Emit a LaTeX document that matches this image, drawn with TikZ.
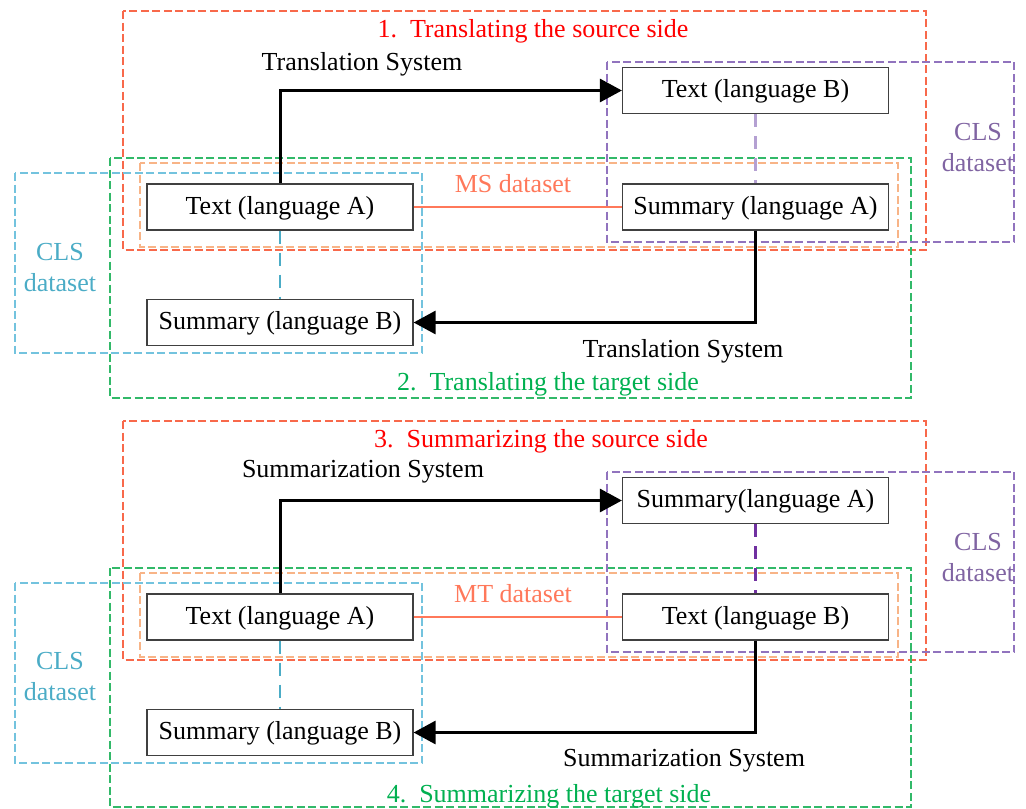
\documentclass[tikz,border=0pt]{standalone}
\usepackage{fontspec}
\setmainfont{Liberation Serif}
\usetikzlibrary{arrows.meta}

\definecolor{frameRed}{RGB}{248,105,75}
\definecolor{titleRed}{RGB}{255,0,0}
\definecolor{frameGreen}{RGB}{50,185,105}
\definecolor{titleGreen}{RGB}{0,176,80}
\definecolor{framePeach}{RGB}{248,180,135}
\definecolor{coral}{RGB}{255,120,90}
\definecolor{frameCyan}{RGB}{115,195,222}
\definecolor{textCyan}{RGB}{75,172,198}
\definecolor{framePurple}{RGB}{145,115,190}
\definecolor{textPurple}{RGB}{128,100,162}
\definecolor{linkLilac}{RGB}{180,160,210}
\definecolor{linkPurple}{RGB}{112,48,160}
\definecolor{boxGray}{RGB}{64,64,64}

\begin{document}
\begin{tikzpicture}[x=1pt,y=-1pt,
  txt/.style={font=\fontsize{26}{30}\selectfont, inner sep=0pt},
  stage/.style={draw=boxGray, line width=1.2pt, fill=white,
    minimum width=266pt, minimum height=46pt, inner sep=0pt,
    text depth=4pt, font=\fontsize{26}{30}\selectfont},
  frame/.style={line width=1.2pt, dash pattern=on 8pt off 3.5pt},
  system/.style={line width=3pt, -{Triangle[length=22pt,width=23pt]}},
  pairlink/.style={line width=2.2pt},
  dashlink/.style={line width=2.4pt, dash pattern=on 13pt off 9pt},
  cls/.style={txt, align=center, font=\fontsize{26}{31}\selectfont}]

\useasboundingbox (0,0) rectangle (1026,809);

% ---------------- upper panel: translation ----------------
\draw[frame, frameRed]    (123,11)  rectangle (926,250);
\draw[frame, frameGreen]  (110,158) rectangle (911,398);
\draw[frame, framePeach]  (140,163) rectangle (898,247);
\draw[frame, frameCyan]   (15,173)  rectangle (422,353);
\draw[frame, framePurple] (607,62)  rectangle (1014,242);

\node[txt, text=titleRed]   (t1) at (533,31)  {1.\ \ Translating the source side};
\node[txt, text=titleGreen] (t2) at (548,384) {2.\ \ Translating the target side};
\node[txt, text=coral]      (ms) at (513,184) {MS dataset};
\node[cls, text=textCyan]   (clsL1) at (60,268)  {CLS\\dataset};
\node[cls, text=textPurple] (clsR1) at (978,148) {CLS\\dataset};
\node[txt] (sysA1) at (362,64)  {Translation System};
\node[txt] (sysB1) at (683,351) {Translation System};

\node[stage] (tA1) at (280,207)   {Text (language A)};
\node[stage] (sB1) at (280,322.5) {Summary (language B)};
\node[stage] (tB1) at (755.5,90.5) {Text (language B)};
\node[stage] (sA1) at (755.5,207) {Summary (language A)};

\draw[pairlink, coral] (tA1.east) -- (sA1.west);
\draw[dashlink, textCyan] (tA1.south) -- (sB1.north);
\draw[dashlink, linkLilac] (tB1.south) -- (sA1.north);
\draw[system] (tA1.north) |- (tB1.west);
\draw[system] (sA1.south) |- (sB1.east);

% ---------------- lower panel: summarization ----------------
\begin{scope}[yshift=-410pt]
\draw[frame, frameRed]    (123,11)  rectangle (926,250);
\draw[frame, frameGreen]  (110,158) rectangle (911,397);
\draw[frame, framePeach]  (140,163) rectangle (898,247);
\draw[frame, frameCyan]   (15,173)  rectangle (422,353);
\draw[frame, framePurple] (607,62)  rectangle (1014,242);

\node[txt, text=titleRed]   (t3) at (541,31)  {3.\ \ Summarizing the source side};
\node[txt, text=titleGreen] (t4) at (549,386) {4.\ \ Summarizing the target side};
\node[txt, text=coral]      (mt) at (513,184) {MT dataset};
\node[cls, text=textCyan]   (clsL2) at (60,267)  {CLS\\dataset};
\node[cls, text=textPurple] (clsR2) at (978,148) {CLS\\dataset};
\node[txt] (sysA2) at (363,62)  {Summarization System};
\node[txt] (sysB2) at (684,351) {Summarization System};

\node[stage] (tA2) at (280,207)   {Text (language A)};
\node[stage] (sB2) at (280,322.5) {Summary (language B)};
\node[stage] (sA2) at (755.5,90.5) {Summary(language A)};
\node[stage] (tB2) at (755.5,207) {Text (language B)};

\draw[pairlink, coral] (tA2.east) -- (tB2.west);
\draw[dashlink, textCyan] (tA2.south) -- (sB2.north);
\draw[dashlink, linkPurple] (sA2.south) -- (tB2.north);
\draw[system] (tA2.north) |- (sA2.west);
\draw[system] (tB2.south) |- (sB2.east);
\end{scope}
\end{tikzpicture}
\end{document}
